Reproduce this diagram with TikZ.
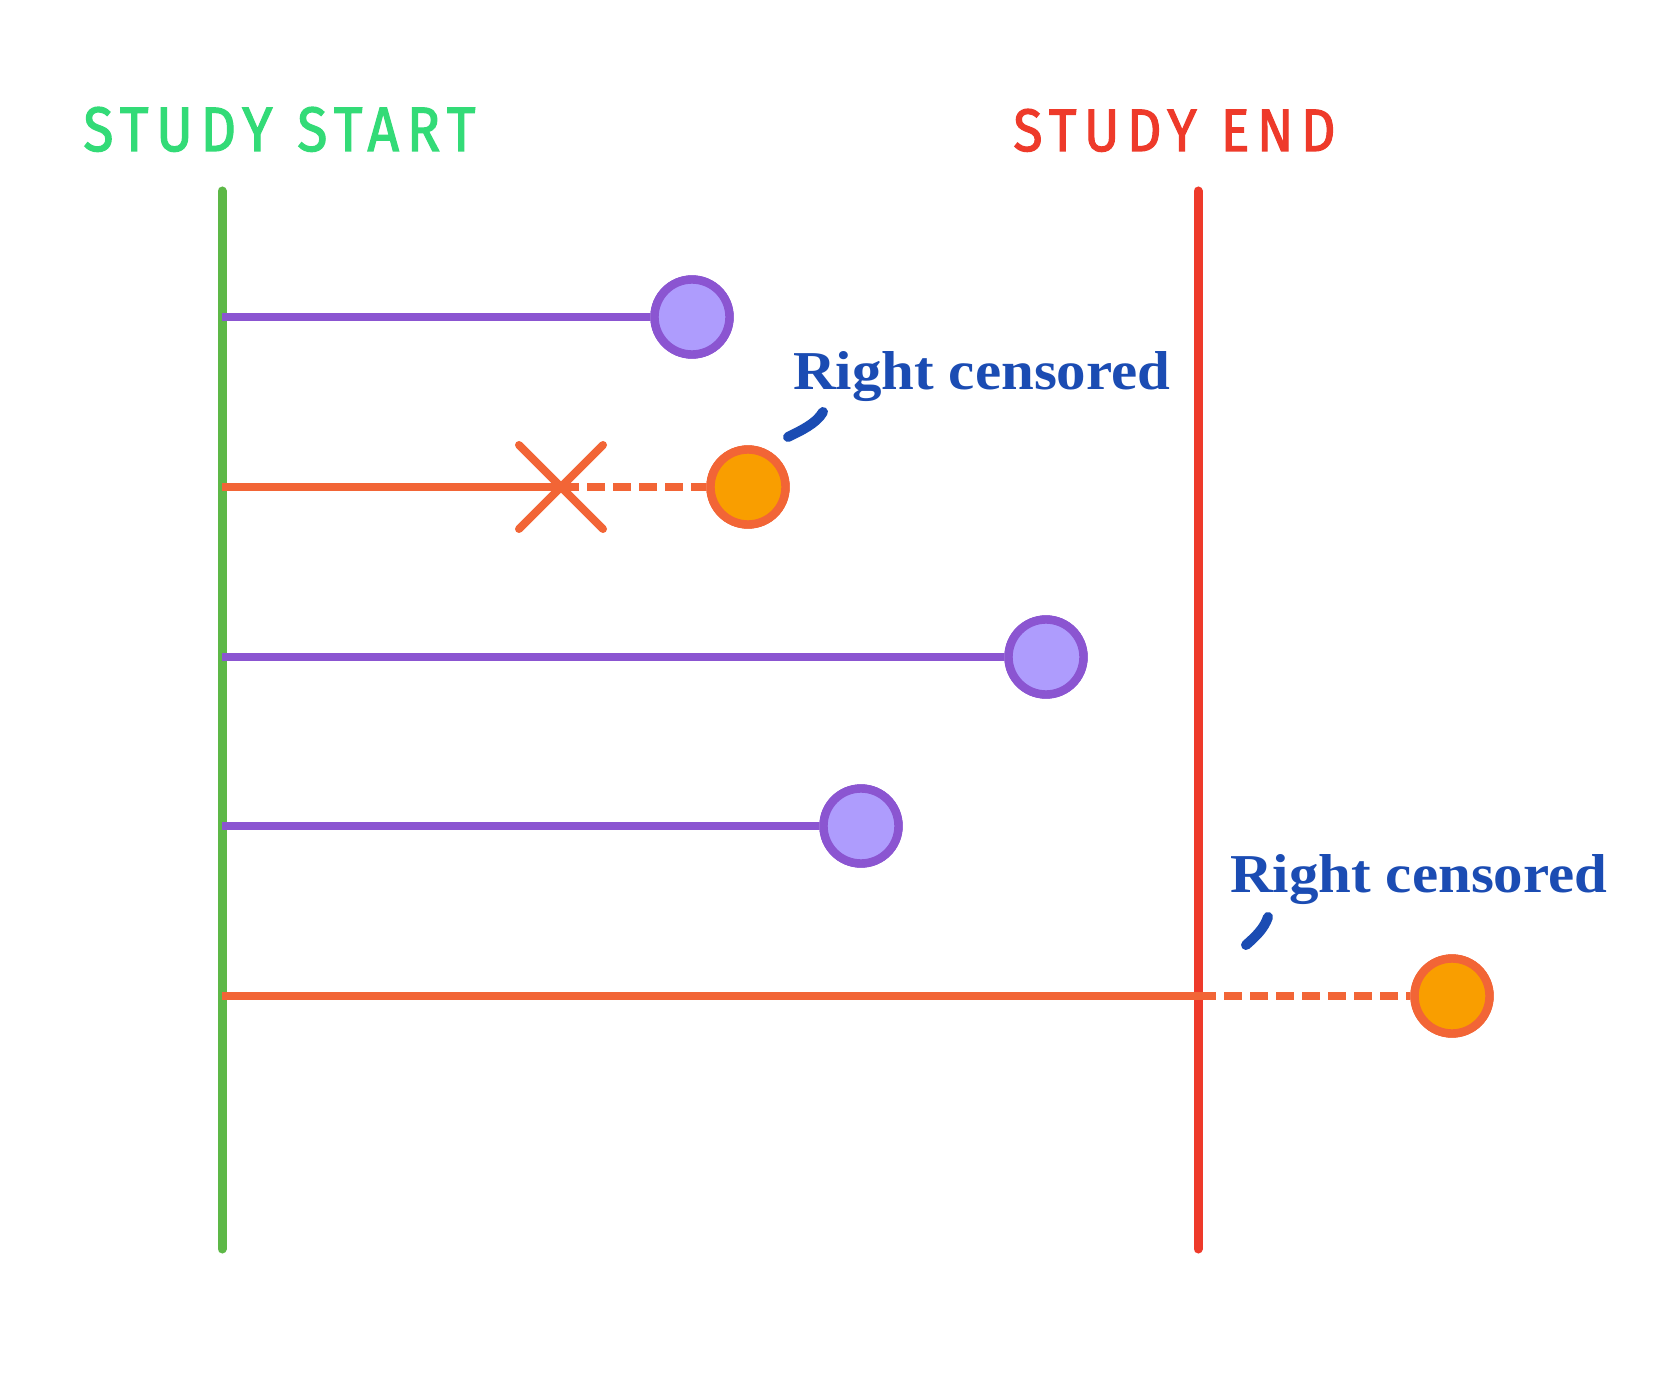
\documentclass[tikz,border=0pt]{standalone}
\usepackage{fontspec}
\setmainfont{Liberation Serif}
\newfontfamily\titlefont[LetterSpace=14,FakeBold=2]{Fira Sans}
\usetikzlibrary{calc}
\definecolor{startgreen}{HTML}{5DB847}
\definecolor{endred}{HTML}{EE3A2A}
\definecolor{titlegreen}{HTML}{33DB77}
\definecolor{evpurple}{HTML}{8B55D1}
\definecolor{evfill}{HTML}{AE9CFD}
\definecolor{cenorange}{HTML}{F26536}
\definecolor{cenfill}{HTML}{F99E00}
\definecolor{labblue}{HTML}{1B4CB3}
\tikzset{
  bound/.style={line width=4.5pt, line cap=round},
  evline/.style={line width=4pt, draw=evpurple},
  cenline/.style={line width=4pt, draw=cenorange},
  cendash/.style={line width=4pt, draw=cenorange, dash pattern=on 9pt off 4pt},
  evdot/.style={circle, draw=evpurple, fill=evfill, line width=4.2pt, minimum size=37.5pt, inner sep=0pt},
  cendot/.style={circle, draw=cenorange, fill=cenfill, line width=4.2pt, minimum size=37.5pt, inner sep=0pt},
  crossmark/.style={line width=4pt, draw=cenorange, line cap=round},
  lab/.style={anchor=base west, inner sep=0pt, text=labblue},
  tick/.style={line width=5pt, draw=labblue, line cap=round},
  ttl/.style={anchor=base west, inner sep=0pt}
}
\begin{document}
\begin{tikzpicture}[x=0.5pt, y=-0.5pt]
\useasboundingbox[fill=white] (0,0) rectangle (1680,1379);
% titles
\node[ttl, text=titlegreen] (tstart) at (83,151) {\resizebox{196pt}{22pt}{\titlefont\mdseries STUDY\hspace{0.45em}START}};
\node[ttl, text=endred] (tend) at (1013,151) {\resizebox{161pt}{21pt}{\titlefont\mdseries STUDY\hspace{0.45em}END}};
% boundary lines
\coordinate (s1) at (222,191);
\coordinate (s2) at (222,1249);
\coordinate (e1) at (1198,191);
\coordinate (e2) at (1198,1249);
\draw[bound, startgreen] (s1) -- (s2);
\draw[bound, endred] (e1) -- (e2);
% row anchors on the start line
\coordinate (r1) at (222,317);
\coordinate (r2) at (222,487);
\coordinate (r3) at (222,657);
\coordinate (r4) at (222,826);
\coordinate (r5) at (222,996);
% endpoints
\node[evdot] (c1) at (692,317) {};
\node[cendot] (c2) at (748,487) {};
\node[evdot] (c3) at (1046,657) {};
\node[evdot] (c4) at (861,826) {};
\node[cendot] (c5) at (1452,996) {};
\coordinate (x2) at (561,487);
\coordinate (x5) at (1198,996);
% lines
\draw[evline] (r1) -- (c1.west);
\draw[cenline] (r2) -- (x2);
\draw[cendash] (x2) -- (c2.west);
\draw[evline] (r3) -- (c3.west);
\draw[evline] (r4) -- (c4.west);
\draw[cenline] (r5) -- (x5);
\draw[cendash] (x5) -- (c5.west);
% redraw circles on top
\node[evdot] at (c1) {};
\node[cendot] at (c2) {};
\node[evdot] at (c3) {};
\node[evdot] at (c4) {};
\node[cendot] at (c5) {};
% cross
\draw[crossmark] ($(x2)+(-42,-42)$) -- ($(x2)+(42,42)$);
\draw[crossmark] ($(x2)+(-42,42)$) -- ($(x2)+(42,-42)$);
% labels
\node[lab] (l1) at (793,390) {\resizebox{188.5pt}{19pt}{\bfseries Right censored}};
\node[lab] (l2) at (1230,892) {\resizebox{188.5pt}{19pt}{\bfseries Right censored}};
\coordinate (t1a) at (823,412);
\coordinate (t1b) at (788,437);
\coordinate (t2a) at (1268,917);
\coordinate (t2b) at (1246,945);
\draw[tick] (t1a) .. controls (816,424) and (800,431) .. (t1b);
\draw[tick] (t2a) .. controls (1264,929) and (1255,937) .. (t2b);
\end{tikzpicture}
\end{document}
